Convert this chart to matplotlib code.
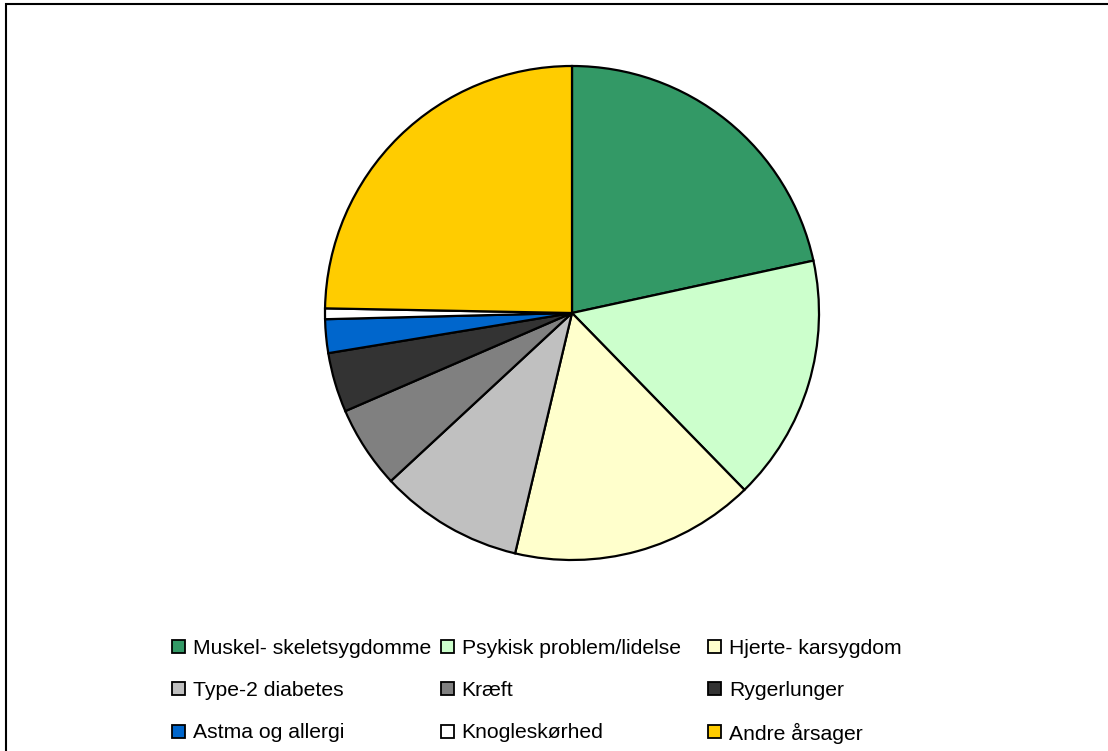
import matplotlib.pyplot as plt
from matplotlib.patches import Rectangle

# data (share of cases)
labels = ['Muskel- skeletsygdomme', 'Psykisk problem/lidelse', 'Hjerte- karsygdom',
          'Type-2 diabetes', 'Kræft', 'Rygerlunger',
          'Astma og allergi', 'Knogleskørhed', 'Andre årsager']
shares = [21.6, 16.1, 16.0, 9.4, 5.4, 3.9, 2.2, 0.7, 24.7]
colors = ['#339966', '#CCFFCC', '#FFFFCC', '#C0C0C0', '#808080', '#333333',
          '#0066CC', '#FFFFFF', '#FFCC00']

W, H = 1108, 751
fig = plt.figure(figsize=(W / 100, H / 100), dpi=100)
fam = ['Liberation Sans', 'DejaVu Sans']

# chart area border
fig.add_artist(Rectangle((6 / W, -0.1), 1.2, 1 - 4 / H + 0.1, transform=fig.transFigure,
                         fill=False, edgecolor='black', linewidth=1.5))

# pie, centre (572, 313) px, radius 247 px
cx, cy, r = 572, 313, 247
box = 252
ax = fig.add_axes([(cx - box) / W, (H - cy - box) / H, 2 * box / W, 2 * box / H])
ax.pie(shares, colors=colors, startangle=90, counterclock=False, radius=1,
       wedgeprops=dict(edgecolor='black', linewidth=1.6))
ax.set_xlim(-box / r, box / r)
ax.set_ylim(-box / r, box / r)
ax.axis('off')

# legend, 3 columns at fixed positions
col_x = [178.5, 447, 714.5]
row_y = [646, 688, 731]
sq = 13
for i, (lab, c) in enumerate(zip(labels, colors)):
    x = col_x[i % 3]
    y = row_y[i // 3]
    fig.add_artist(Rectangle(((x - sq / 2) / W, (H - y - sq / 2) / H), sq / W, sq / H,
                             transform=fig.transFigure, facecolor=c,
                             edgecolor='black', linewidth=1.3))
    fig.text((x + 14.5) / W, (H - y) / H, lab, ha='left', va='center_baseline',
             fontsize=15.2, family=fam, color='black')

fig.savefig('out.png', dpi=100)
